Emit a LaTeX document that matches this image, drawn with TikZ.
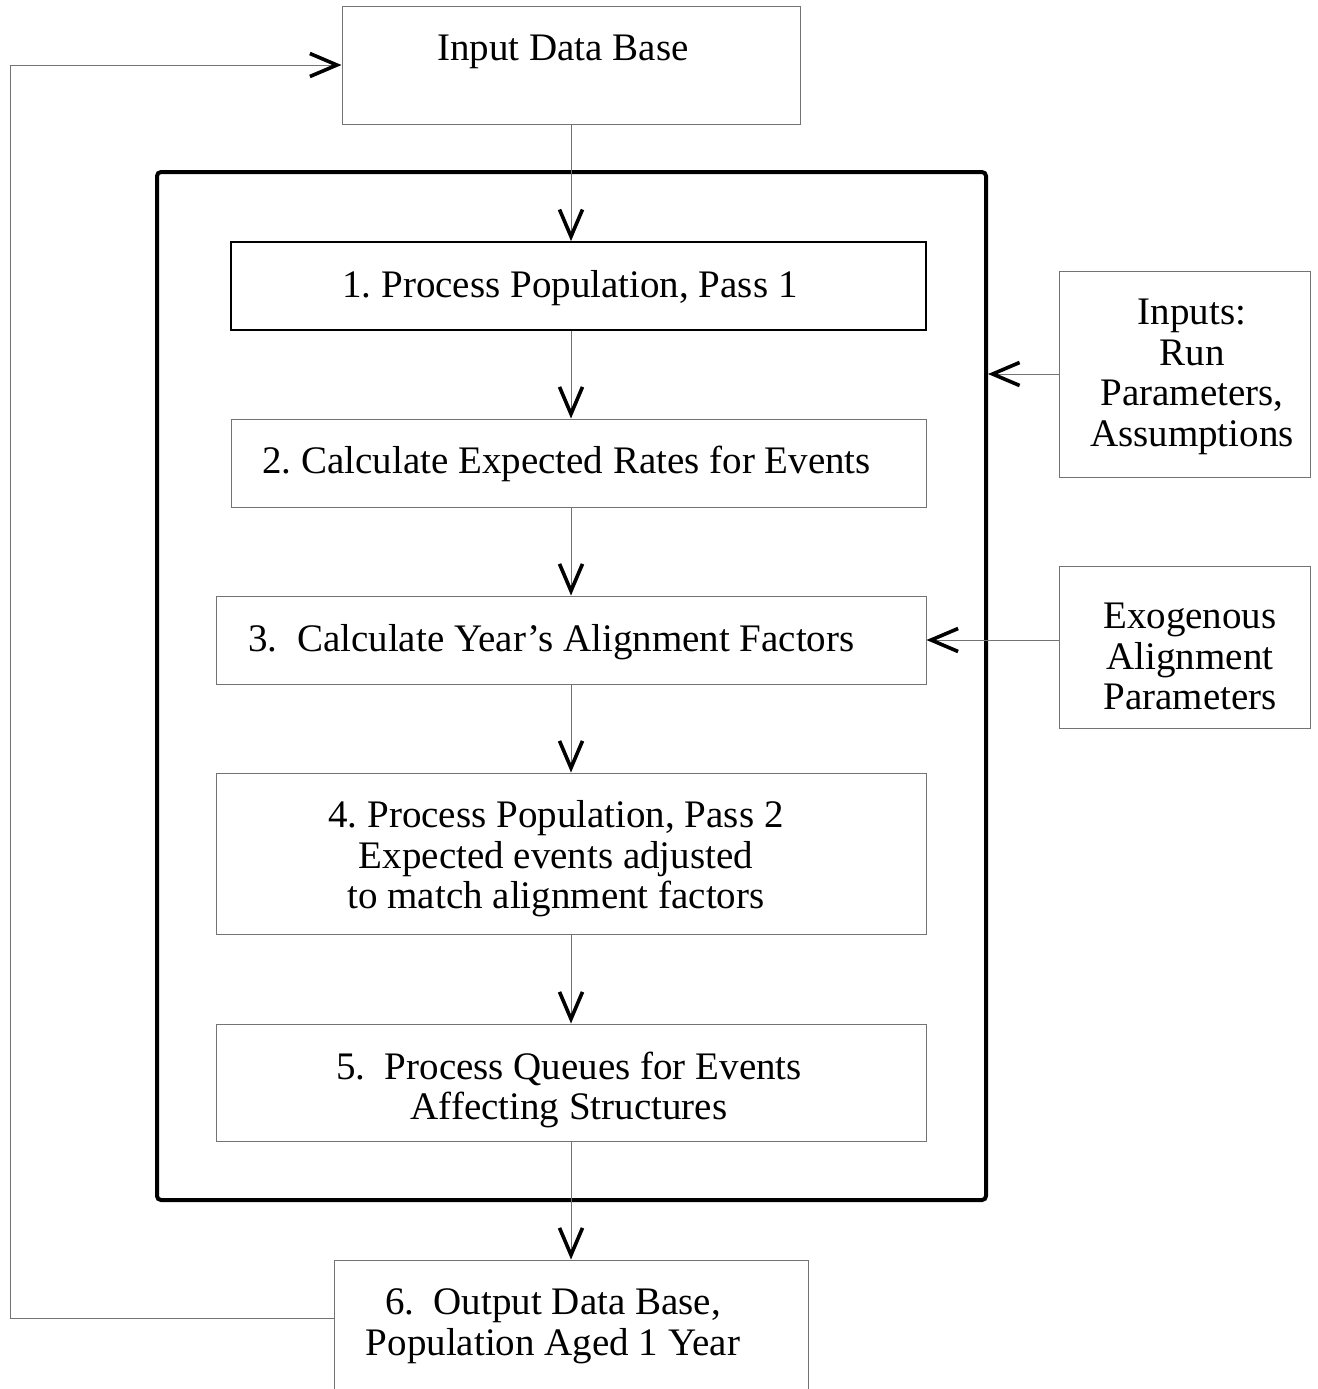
\documentclass[tikz,border=0pt]{standalone}
\usepackage{fontspec}
\setmainfont{Liberation Serif}
\usetikzlibrary{arrows.meta}

\begin{document}
\begin{tikzpicture}[x=0.5pt,y=-0.5pt]
		\useasboundingbox (0,0) rectangle (1318,1389);
		\clip (0,0) rectangle (1318,1389);
		\node[draw=black,line width=2pt,rounded corners=2pt,inner sep=0pt,
		      minimum width=414.5pt,minimum height=514pt] (frame) at (571.5,686) {};

		\begin{scope}[every node/.style={draw=black!55,line width=0.5pt,inner sep=0pt}]
			\node[minimum width=229pt,minimum height=59pt] (in) at (571,65) {};
			\node[draw=black,line width=0.9pt,minimum width=347.5pt,minimum height=44pt] (b1) at (578.5,286) {};
			\node[minimum width=347.5pt,minimum height=44pt] (b2) at (578.5,463) {};
			\node[minimum width=355pt,minimum height=44pt] (b3) at (571,640) {};
			\node[minimum width=355pt,minimum height=80.5pt] (b4) at (571,853.5) {};
			\node[minimum width=355pt,minimum height=58.5pt] (b5) at (571,1082.5) {};
			\node[minimum width=237pt,minimum height=70pt] (b6) at (571,1330) {};
			\node[minimum width=125.5pt,minimum height=103pt] (inputs) at (1184.5,374) {};
			\node[minimum width=125.5pt,minimum height=81pt] (exo) at (1184.5,647) {};
		\end{scope}

		\begin{scope}[every node/.style={align=center,inner sep=0pt,font=\fontsize{19.5}{20.3}\selectfont\frenchspacing}]
			\node (tin) at (563,52) {Input Data Base};
			\node (t1) at (570,288) {1. Process Population, Pass 1};
			\node (t2) at (566.5,464) {2. Calculate Expected Rates for Events};
			\node (t3) at (551.5,642) {3.~~Calculate Year's Alignment Factors};
			\node (t4) at (556,859) {4. Process Population, Pass 2\\Expected events adjusted\\to match alignment factors};
			\node (t5) at (569,1090) {5.~~Process Queues for Events\\Affecting Structures};
			\node (t6) at (553,1326.5) {6.~~Output Data Base,\\Population Aged 1 Year};
			\node (tinputs) at (1192,377) {Inputs:\\Run\\Parameters,\\Assumptions};
			\node (texo) at (1190,656.5) {Exogenous\\Alignment\\Parameters};
		\end{scope}

		\begin{scope}[>={Straight Barb[black,line width=1.8pt,length=13.5pt,width=11.5pt]},
		              every edge/.style={draw=black!55,line width=0.5pt,->}]
			\coordinate (loop) at (10,65);
			\path (in) edge (in |- b1.north);
			\path (b1.south -| in) edge (b2.north -| in);
			\path (b2.south -| in) edge (b3.north -| in);
			\path (b3.south -| in) edge (b4.north -| in);
			\path (b4.south -| in) edge (b5.north -| in);
			\path (b5.south -| in) edge (b6.north -| in);
			\path (inputs) edge (frame.east |- inputs);
			\path (exo.west |- b3) edge (b3.east);
			\path ([yshift=6pt]b6.west) edge[to path={-| (loop) |- (\tikztotarget)}] (in.west);
		\end{scope}
\end{tikzpicture}
\end{document}
